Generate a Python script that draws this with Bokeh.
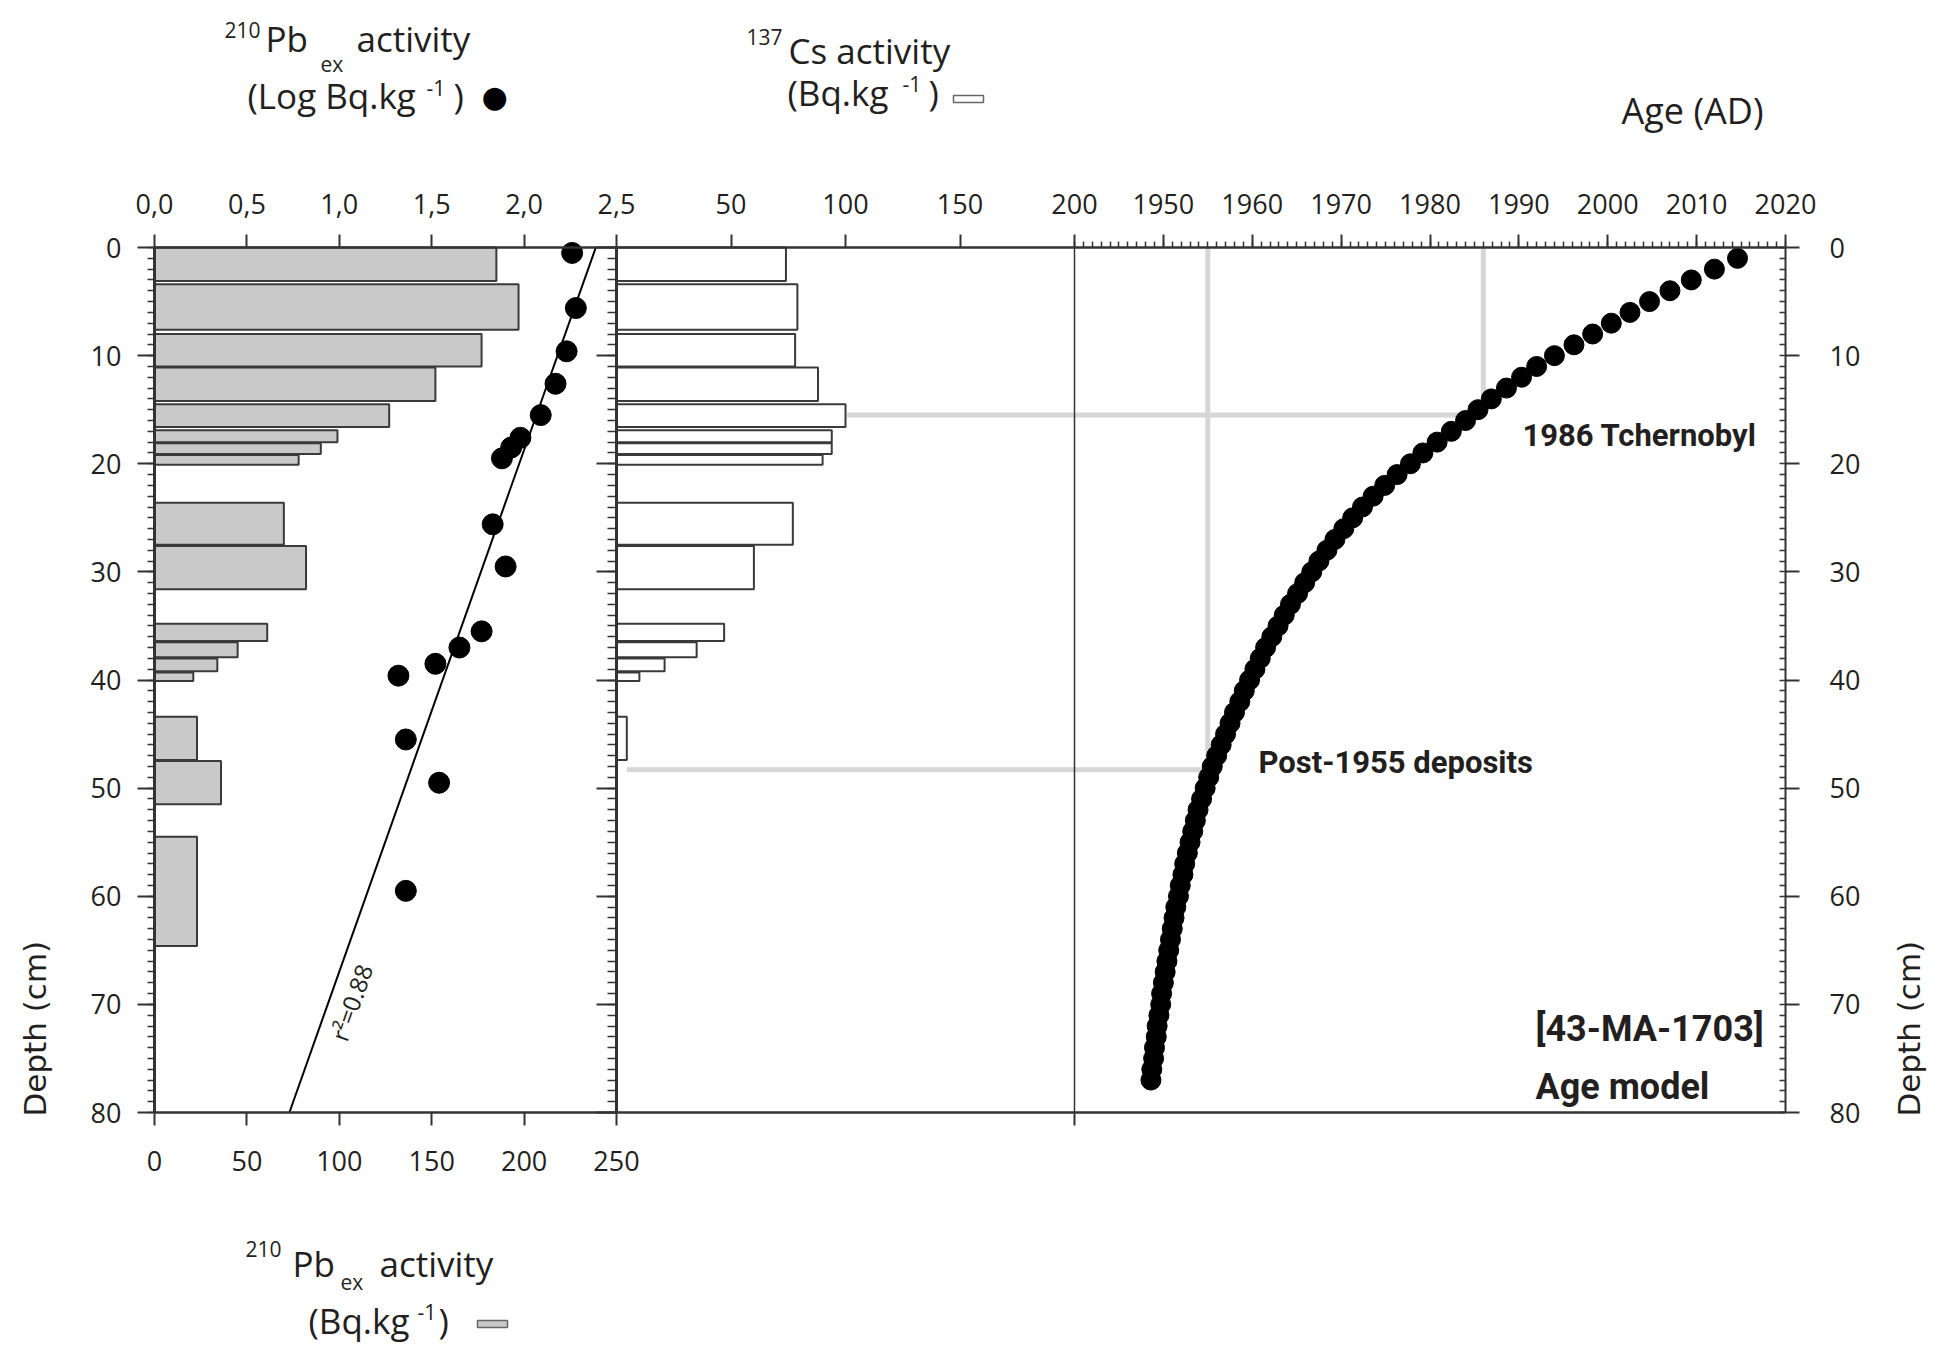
import math
from bokeh.plotting import figure
from bokeh.models import (Range1d, LinearAxis, FixedTicker, CustomJSTickFormatter,
                          Label, Grid)
from bokeh.embed import file_html
from bokeh.resources import INLINE

# ---------------- data ----------------
# sample depth intervals (cm)
sample_top = [0.0, 3.4, 8.0, 11.1, 14.5, 16.9, 18.1, 19.2, 23.6, 27.6,
              34.8, 36.5, 38.0, 39.3, 43.4, 47.5, 54.5]
sample_bottom = [3.1, 7.6, 11.0, 14.2, 16.6, 18.0, 19.1, 20.1, 27.5, 31.6,
                 36.4, 37.9, 39.2, 40.1, 47.4, 51.5, 64.6]
# 210Pb_ex activity (Bq/kg) - grey bars
pb_bq = [185, 197, 177, 152, 127, 99, 90, 78, 70, 82, 61, 45, 34, 21, 23, 36, 23]
# 137Cs activity (Bq/kg) - white bars (first 15 samples)
cs_bq = [74, 79, 78, 88, 100, 94, 94, 90, 77, 60, 47, 35, 21, 10, 4.5]
# 210Pb_ex activity (log Bq/kg) - black dots
pb_log_depth = [0.5, 5.6, 9.6, 12.6, 15.5, 17.6, 18.5, 19.5, 25.6, 29.5,
                35.5, 37.0, 38.5, 39.6, 45.5, 49.5, 59.5]
pb_log = [2.26, 2.28, 2.23, 2.17, 2.09, 1.98, 1.93, 1.88, 1.83, 1.90,
          1.77, 1.65, 1.52, 1.32, 1.36, 1.54, 1.36]
# regression line (r2 = 0.88)
fit_depth = [0, 80]
fit_log = [2.388, 0.73]
# age model (AD) vs depth (cm)
age_depth = list(range(1, 78))
age_year = [2014.6, 2012.0, 2009.4, 2007.0, 2004.7, 2002.5, 2000.4, 1998.3, 1996.2, 1994.0,
            1992.0, 1990.3, 1988.6, 1986.9, 1985.4, 1984.0, 1982.4, 1980.8, 1979.2, 1977.8,
            1976.3, 1974.9, 1973.6, 1972.4, 1971.3, 1970.3, 1969.3, 1968.4, 1967.5, 1966.7,
            1965.9, 1965.1, 1964.3, 1963.6, 1962.9, 1962.2, 1961.5, 1960.9, 1960.3, 1959.7,
            1959.1, 1958.6, 1958.0, 1957.5, 1957.0, 1956.5, 1956.0, 1955.5, 1955.1, 1954.7,
            1954.3, 1953.9, 1953.6, 1953.3, 1953.0, 1952.7, 1952.4, 1952.2, 1951.9, 1951.7,
            1951.4, 1951.2, 1951.0, 1950.8, 1950.6, 1950.4, 1950.2, 1950.0, 1949.8, 1949.7,
            1949.5, 1949.3, 1949.2, 1949.0, 1948.9, 1948.7, 1948.6]
# reference markers (Tchernobyl 1986, post-1955)
marker_year = [1986, 1955]
marker_depth = [15.5, 48.3]
marker_cs_from = [100.7, 4.5]

# tick values
depth_ticks = [0, 10, 20, 30, 40, 50, 60, 70, 80]
depth_minor = list(range(0, 81))
log_ticks = [0.0, 0.5, 1.0, 1.5, 2.0, 2.5]
cs_ticks = [50, 100, 150, 200]
age_ticks = [1950, 1960, 1970, 1980, 1990, 2000, 2010, 2020]
age_minor = list(range(1940, 2021))
bq_ticks = [0, 50, 100, 150, 200, 250]

# ---------------- layout (page pixels) ----------------
W, H = 1940, 1350
X1, X2, X3, X4 = 154, 616, 1074, 1785     # panel borders
Y0, Y1 = 247, 1112                          # depth 0 / depth 80

LOG_MAX, BQ_MAX, CS_MAX = 2.5, 250, 200
AGE_MIN, AGE_MAX = 1940, 2020
DEPTH_MAX = 80


def span_range(v0, v1, a, b, total):
    s = (v1 - v0) / (b - a)
    return Range1d(v0 - a * s, v0 + (total - a) * s)


log_range = span_range(0, LOG_MAX, X1, X2, W)
pb_range = span_range(0, BQ_MAX, X1, X2, W)
cs_range = span_range(0, CS_MAX, X2, X3, W)
age_range = span_range(AGE_MIN, AGE_MAX, X3, X4, W)
k = (Y1 - Y0) / DEPTH_MAX
depth_range = Range1d((H - Y0) / k, -Y0 / k)   # reversed: depth grows downward

p = figure(width=W, height=H, x_range=log_range, y_range=depth_range,
           x_axis_location=None, y_axis_location=None, toolbar_location=None,
           output_backend="svg", min_border=0)
p.min_border_left = p.min_border_right = p.min_border_top = p.min_border_bottom = 0
p.extra_x_ranges = {"pb": pb_range, "cs": cs_range, "age": age_range}
p.outline_line_color = None
p.background_fill_color = "white"
p.border_fill_color = "white"
for r in list(p.center):
    if isinstance(r, Grid):
        r.visible = False

AX = "#333333"
TXT = "#231f20"
TICK_FONT = "Open Sans"


def make_axis(side, ticks, minor=None, xr=None, fixed=None, bounds=None,
              tick_out=13, minor_out=0, minor_in=0, standoff=12, lw=2.5,
              formatter=None, line=True):
    ax = LinearAxis(ticker=FixedTicker(ticks=ticks, minor_ticks=minor or []))
    if xr:
        ax.x_range_name = xr
    ax.fixed_location = fixed
    if bounds is not None:
        ax.bounds = bounds
    ax.axis_line_color = AX if line else None
    ax.axis_line_width = lw
    ax.major_tick_line_color = AX
    ax.major_tick_line_width = 2
    ax.minor_tick_line_color = AX
    ax.minor_tick_line_width = 2 if minor_out > 10 else 1.5
    ax.major_tick_out = tick_out
    ax.major_tick_in = 0
    ax.minor_tick_out = minor_out
    ax.minor_tick_in = minor_in
    ax.major_label_text_font = TICK_FONT
    ax.major_label_text_color = TXT
    ax.major_label_text_font_size = "27px"
    ax.major_label_standoff = standoff
    if formatter is not None:
        ax.formatter = formatter
    p.add_layout(ax, side)
    return ax


DB = (0, DEPTH_MAX)
# left depth axis (panel 1)
make_axis("left", depth_ticks, depth_minor, fixed=0, bounds=DB,
          tick_out=17, minor_out=7, standoff=16, lw=3)
# tick marks on the panel 1 / panel 2 border (no labels)
make_axis("left", [], depth_ticks, xr="cs", fixed=0, bounds=DB, minor_out=20, lw=3)
make_axis("left", [], depth_minor, xr="cs", fixed=0, bounds=DB, minor_out=9, lw=3)
# thin border between panel 2 and panel 3
make_axis("left", [], [], xr="age", fixed=AGE_MIN, bounds=DB, lw=1.5)
# right depth axis (panel 3)
make_axis("right", depth_ticks, depth_minor, xr="age", fixed=AGE_MAX, bounds=DB,
          tick_out=14, minor_in=6, standoff=30, lw=2)
# top axes
make_axis("above", log_ticks, fixed=0, bounds=(0, LOG_MAX), standoff=21,
          formatter=CustomJSTickFormatter(code="return tick.toFixed(1).replace('.', ',');"))
make_axis("above", cs_ticks, xr="cs", fixed=0, bounds=(0, CS_MAX), standoff=21)
make_axis("above", age_ticks, age_minor, xr="age", fixed=0, bounds=(AGE_MIN, AGE_MAX),
          minor_out=6, standoff=21)
# bottom axes
make_axis("below", bq_ticks, xr="pb", fixed=DEPTH_MAX, bounds=(0, BQ_MAX), standoff=25)
make_axis("below", [], [CS_MAX], xr="cs", fixed=DEPTH_MAX, bounds=(0, CS_MAX), minor_out=13)
make_axis("below", [], [], xr="age", fixed=DEPTH_MAX, bounds=(AGE_MIN, AGE_MAX))

# ---------------- glyphs ----------------
GREY_LINE = "#d6d6d6"
p.segment(x0=marker_cs_from, x1=[CS_MAX] * len(marker_cs_from), y0=marker_depth, y1=marker_depth,
          x_range_name="cs", line_color=GREY_LINE, line_width=5)
p.segment(x0=[AGE_MIN] * len(marker_year), x1=marker_year, y0=marker_depth, y1=marker_depth,
          x_range_name="age", line_color=GREY_LINE, line_width=5)
p.segment(x0=marker_year, x1=marker_year, y0=[0] * len(marker_year), y1=marker_depth,
          x_range_name="age", line_color=GREY_LINE, line_width=5)

n_cs = len(cs_bq)
p.quad(left=[0] * len(pb_bq), right=pb_bq, top=sample_top, bottom=sample_bottom,
       x_range_name="pb", fill_color="#c9c9c9", line_color="#3a3a3a", line_width=2)
p.quad(left=[0] * n_cs, right=cs_bq, top=sample_top[:n_cs], bottom=sample_bottom[:n_cs],
       x_range_name="cs", fill_color="white", line_color="#3a3a3a", line_width=2)

p.line(x=fit_log, y=fit_depth, line_color="black", line_width=2)
p.scatter(x=pb_log, y=pb_log_depth, size=21, fill_color="black", line_color="black")
p.scatter(x=age_year, y=age_depth, x_range_name="age", size=20,
          fill_color="black", line_color="black")


# ---------------- texts (positions in page pixels) ----------------
SHIFT = {"Open Sans": 0.44, "Roboto": 0.33}


def txt(text, px, py, size, font="Open Sans", bold=False, align="left",
        baseline="alphabetic", angle=0.0, color=TXT, **kw):
    if baseline == "alphabetic":
        py = py - SHIFT.get(font, 0.0) * size
    lab = Label(x=px, y=H - py, x_units="screen", y_units="screen", text=text,
                text_font=font, text_font_size=f"{size}px",
                text_font_style="bold" if bold else "normal",
                text_align=align, text_baseline=baseline, angle=angle,
                text_color=color, **kw)
    p.add_layout(lab)
    return lab


SUP = 21
# top-left title
txt("210", 224, 39, SUP)
txt("Pb", 265, 53, 35)
txt("ex", 320, 73, SUP)
txt("activity", 356, 53, 35)
txt("(Log Bq.kg", 247, 110, 35)
txt("-1", 426, 97, SUP)
txt(")", 453, 110, 35)
txt("\u25CF", 494, 96, 30, font="DejaVu Sans", align="center", baseline="middle", color="black")

# Cs title
txt("137", 746, 46, SUP)
txt("Cs activity", 788, 65, 35)
txt("(Bq.kg", 787, 107, 35)
txt("-1", 902, 93, SUP)
txt(")", 928, 107, 35)
txt("\u2003" * 5, 953, 102, 6, font="DejaVu Sans", baseline="bottom",
    background_fill_color="white", border_line_color="#666666", border_line_width=1.5)

# Age title
txt("Age (AD)", 1621, 126, 36)

# bottom title
txt("210", 245, 1258, SUP)
txt("Pb", 292, 1278, 35)
txt("ex", 340, 1291, SUP)
txt("activity", 379, 1278, 35)
txt("(Bq.kg", 308, 1335, 35)
txt("-1", 417, 1321, SUP)
txt(")", 438, 1335, 35)
txt("\u2003" * 5, 477, 1327, 6, font="DejaVu Sans", baseline="bottom",
    background_fill_color="#c9c9c9", border_line_color="#666666", border_line_width=1.5)

# depth labels
txt("Depth (cm)", 34, 1116, 31, font="DejaVu Sans", baseline="middle", angle=math.pi / 2)
txt("Depth (cm)", 1908, 1116, 31, font="DejaVu Sans", baseline="middle", angle=math.pi / 2)

# r2 label along the fit line
txt("r\u00b2=0.88", 351, 1002, 24, align="center", baseline="middle",
    angle=math.radians(70.5))

# annotations
BOLD = "Roboto"
txt("1986 Tchernobyl", 1522, 445, 31, font=BOLD, bold=True)
txt("Post-1955 deposits", 1258, 772, 31, font=BOLD, bold=True)
txt("[43-MA-1703]", 1535, 1040, 36, font=BOLD, bold=True)
txt("Age model", 1535, 1098, 36, font=BOLD, bold=True)

open("out.html", "w").write(file_html(p, INLINE))
